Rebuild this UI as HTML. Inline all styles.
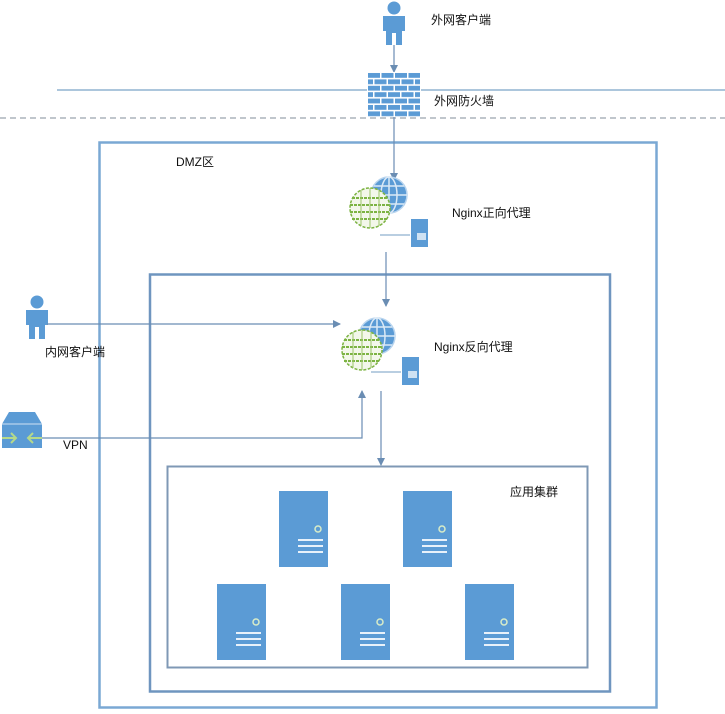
<!DOCTYPE html>
<html><head><meta charset="utf-8"><style>
html,body{margin:0;padding:0;background:#fff;width:725px;height:714px;overflow:hidden}
text{font-family:"Liberation Sans","Noto Sans CJK SC",sans-serif;font-size:12px;fill:#111}
</style></head><body>
<svg width="725" height="714" viewBox="0 0 725 714" xmlns="http://www.w3.org/2000/svg">
<defs>
<marker id="a" markerWidth="8" markerHeight="8" refX="7" refY="4" orient="auto" markerUnits="userSpaceOnUse"><path d="M0,0 L8,4 L0,8 z" fill="#6a8db3"/></marker>
<pattern id="br" x="367" y="72" width="54" height="12.8" patternUnits="userSpaceOnUse">
<rect width="54" height="12.8" fill="#fff"/>
<rect x="1" y="1" width="12" height="4.8" fill="#5b9bd5"/><rect x="14.5" y="1" width="12" height="4.8" fill="#5b9bd5"/><rect x="28" y="1" width="12" height="4.8" fill="#5b9bd5"/><rect x="41.5" y="1" width="11.5" height="4.8" fill="#5b9bd5"/>
<rect x="1" y="7.4" width="5" height="4.8" fill="#5b9bd5"/><rect x="7.5" y="7.4" width="12" height="4.8" fill="#5b9bd5"/><rect x="21" y="7.4" width="12" height="4.8" fill="#5b9bd5"/><rect x="34.5" y="7.4" width="12" height="4.8" fill="#5b9bd5"/><rect x="48" y="7.4" width="5" height="4.8" fill="#5b9bd5"/>
</pattern>
<g id="srv"><rect width="49" height="76" fill="#5b9bd5"/><circle cx="39" cy="38" r="3" fill="#5b9bd5" stroke="#d8ecc8" stroke-width="1.5"/><rect x="19" y="48" width="25" height="2" fill="#e8f1fa"/><rect x="19" y="54" width="25" height="2" fill="#e8f1fa"/><rect x="19" y="60" width="25" height="2" fill="#e8f1fa"/></g>
<g id="person"><circle cx="0" cy="8" r="6.5" fill="#5b9bd5"/><path d="M-11,16 h22 v15 h-3 v14 h-6 v-12 h-4 v12 h-6 v-14 h-3 z" fill="#5b9bd5"/></g>
<g id="gb"><circle r="18" fill="#5b9bd5" stroke="#b8d4ee" stroke-width="1.5"/><ellipse rx="8" ry="18" fill="none" stroke="#dbe9f6" stroke-width="1.5"/><line x1="0" y1="-18" x2="0" y2="18" stroke="#dbe9f6" stroke-width="1.5"/><line x1="-18" y1="0" x2="18" y2="0" stroke="#dbe9f6" stroke-width="1.5"/><line x1="-15" y1="-9" x2="15" y2="-9" stroke="#dbe9f6" stroke-width="1.5"/><line x1="-15" y1="9" x2="15" y2="9" stroke="#dbe9f6" stroke-width="1.5"/></g>
<g id="gg"><circle r="20" fill="#f3f7ea" stroke="#7cb342" stroke-width="1.5" stroke-dasharray="3 1.5"/><g stroke="#7cb342" stroke-width="2" stroke-dasharray="3 1"><line x1="-18" y1="-10" x2="18" y2="-10"/><line x1="-20" y1="-3" x2="20" y2="-3"/><line x1="-20" y1="4" x2="20" y2="4"/><line x1="-18" y1="11" x2="18" y2="11"/></g><g stroke="#9cc56a" stroke-width="1"><line x1="-9" y1="-18" x2="-9" y2="18"/><line x1="0" y1="-20" x2="0" y2="20"/><line x1="9" y1="-18" x2="9" y2="18"/></g></g>
<g id="ss"><rect width="17" height="28" fill="#5b9bd5"/><rect x="6" y="14" width="9" height="7" fill="#cfe2f3"/></g>
</defs>

<!-- top lines -->
<line x1="57" y1="90" x2="725" y2="90" stroke="#7aa3c8" stroke-width="1.3"/>
<line x1="0" y1="118" x2="725" y2="118" stroke="#9aa3ad" stroke-width="1.3" stroke-dasharray="6 4"/>

<!-- boxes -->
<rect x="99.5" y="142.5" width="557" height="565" fill="none" stroke="#7aa8d4" stroke-width="2.5"/>
<rect x="150" y="274.5" width="460" height="417" fill="none" stroke="#6f95bf" stroke-width="2.5"/>
<rect x="167.5" y="466.5" width="420" height="201" fill="none" stroke="#7f98b5" stroke-width="2"/>

<!-- top client -->
<use href="#person" x="394" y="0"/>
<line x1="394" y1="45" x2="394" y2="72" stroke="#6a8db3" stroke-width="1.2" marker-end="url(#a)"/>
<rect x="367" y="72" width="54" height="45" fill="url(#br)"/>
<text x="431" y="24">外网客户端</text>
<text x="434" y="105">外网防火墙</text>
<line x1="394" y1="117" x2="394" y2="180" stroke="#6a8db3" stroke-width="1.2" marker-end="url(#a)"/>

<text x="176" y="166">DMZ区</text>

<!-- globe 1 -->
<use href="#gb" x="389" y="195"/>
<use href="#gg" x="370" y="208"/>
<line x1="380" y1="235" x2="410" y2="235" stroke="#8fb0cf" stroke-width="1.2"/>
<use href="#ss" x="411" y="219"/>
<text x="452" y="217">Nginx正向代理</text>
<line x1="386" y1="252" x2="386" y2="306" stroke="#6a8db3" stroke-width="1.2" marker-end="url(#a)"/>

<!-- inner client -->
<use href="#person" x="37" y="294"/>
<line x1="47" y1="324" x2="340" y2="324" stroke="#6a8db3" stroke-width="1.2" marker-end="url(#a)"/>
<text x="45" y="356">内网客户端</text>

<!-- globe 2 -->
<use href="#gb" x="377" y="336"/>
<use href="#gg" x="362" y="350"/>
<line x1="371" y1="372" x2="401" y2="372" stroke="#8fb0cf" stroke-width="1.2"/>
<use href="#ss" x="402" y="357"/>
<text x="434" y="351">Nginx反向代理</text>

<!-- VPN -->
<path d="M9,412 h26 l7,12 v24 h-40 v-24 z" fill="#5b9bd5"/>
<line x1="2" y1="424" x2="42" y2="424" stroke="#cfe2f3" stroke-width="1"/>
<path d="M2,438 h14 M11,433 l5,5 -5,5 M42,438 h-14 M33,433 l-5,5 5,5" stroke="#b5d98a" stroke-width="2" fill="none"/>
<text x="63" y="449">VPN</text>
<polyline points="42,438 362,438 362,391" fill="none" stroke="#6a8db3" stroke-width="1.2" marker-end="url(#a)"/>

<line x1="381" y1="391" x2="381" y2="465" stroke="#6a8db3" stroke-width="1.2" marker-end="url(#a)"/>

<text x="510" y="496">应用集群</text>
<use href="#srv" x="279" y="491"/>
<use href="#srv" x="403" y="491"/>
<use href="#srv" x="217" y="584"/>
<use href="#srv" x="341" y="584"/>
<use href="#srv" x="465" y="584"/>
</svg>
</body></html>
